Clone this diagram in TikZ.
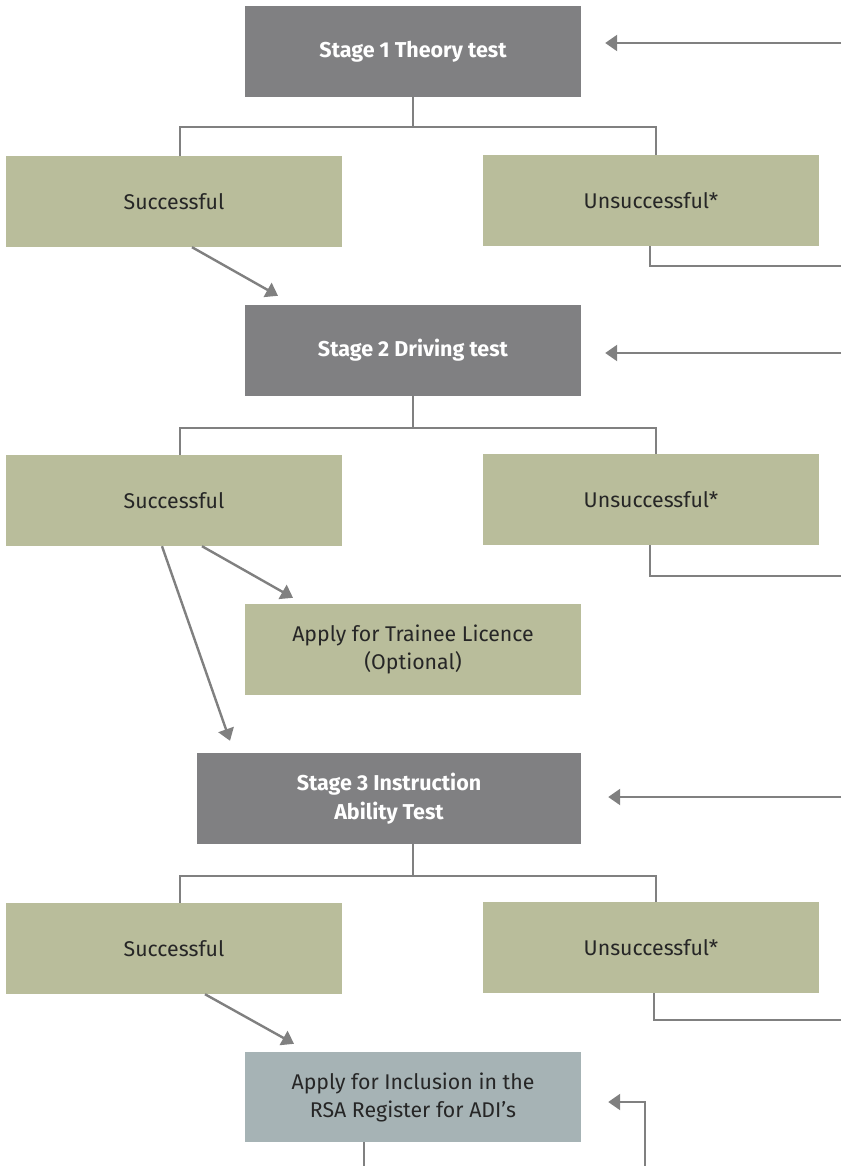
\documentclass[tikz,border=0pt]{standalone}
\usepackage{fontspec}
\setmainfont{Fira Sans}
\usetikzlibrary{arrows.meta}
\definecolor{stagegrey}{HTML}{808082}
\definecolor{resgreen}{HTML}{B9BD9B}
\definecolor{adiblue}{HTML}{A6B3B5}
\definecolor{linkgrey}{HTML}{808080}
\begin{document}
\begin{tikzpicture}[x=1pt, y=-1pt,
  box/.style={rectangle, inner sep=0pt, minimum width=336pt, minimum height=91pt, align=center, font=\fontsize{21.3}{28}\selectfont, text=black!85},
  stage/.style={box, fill=stagegrey, text=white, font=\fontsize{21.5}{29}\selectfont\bfseries},
  res/.style={box, fill=resgreen},
  link/.style={draw=linkgrey, line width=2.4pt},
  arr/.style={link, -{Triangle[length=12pt, width=16pt]}}]
\useasboundingbox (0,0) rectangle (841,1166);
\node[stage] (st1) at (413,51.5){Stage 1 Theory test};
\node[res] (ok1) at (174,201.5){Successful};
\node[res] (no1) at (651,200.5){Unsuccessful*};
\node[stage] (st2) at (413,350.5){Stage 2 Driving test};
\node[res] (ok2) at (174,500.5){Successful};
\node[res] (no2) at (651,499.5){Unsuccessful*};
\node[res] (lic) at (413,649.5){Apply for Trainee Licence\\(Optional)};
\node[stage, minimum width=384pt] (st3) at (389,798.5){Stage 3 Instruction\\Ability Test};
\node[res] (ok3) at (174,948.5){Successful};
\node[res] (no3) at (651,947.5){Unsuccessful*};
\node[box, fill=adiblue, minimum height=90pt] (adi) at (413,1097){Apply for Inclusion in the\\RSA Register for ADI's};
\coordinate (in1) at (841,43);
\coordinate (out1) at (841,266);
\coordinate (in2) at (841,353);
\coordinate (out2) at (841,576);
\coordinate (in3) at (841,797);
\coordinate (out3) at (841,1020);
\coordinate (inadi) at (645,1166);
\coordinate (outadi) at (364,1166);
\draw[link] (st1.south) -- ++(0,30) -| ([xshift=6pt]ok1.north);
\draw[link] (st1.south) ++(0,30) -| ([xshift=5pt]no1.north);
\draw[link] ([xshift=-1pt]no1.south) |- (out1);
\draw[arr] (in1) -- ([xshift=24pt, yshift=8.5pt]st1.east);
\draw[arr] ([xshift=18pt]ok1.south) -- ([xshift=-135pt, yshift=9pt]st2.north);
\draw[link] (st2.south) -- ++(0,32) -| ([xshift=6pt]ok2.north);
\draw[link] (st2.south) ++(0,32) -| ([xshift=5pt]no2.north);
\draw[link] ([xshift=-1pt]no2.south) |- (out2);
\draw[arr] (in2) -- ([xshift=24pt, yshift=-2.5pt]st2.east);
\draw[arr] ([xshift=28pt]ok2.south) -- ([xshift=-120pt, yshift=6pt]lic.north);
\draw[arr] ([xshift=-12pt]ok2.south) -- ([xshift=-159pt, yshift=12pt]st3.north);
\draw[link] ([xshift=24pt]st3.south) -- ++(0,32) -| ([xshift=6pt]ok3.north);
\draw[link] ([xshift=24pt]st3.south) ++(0,32) -| ([xshift=5pt]no3.north);
\draw[link] ([xshift=3pt]no3.south) |- (out3);
\draw[arr] (in3) -- ([xshift=27pt, yshift=1.5pt]st3.east);
\draw[arr] ([xshift=31pt]ok3.south) -- ([xshift=-119pt, yshift=8pt]adi.north);
\draw[arr] (inadi) |- ([xshift=27pt, yshift=-5pt]adi.east);
\draw[link] ([xshift=-49pt]adi.south) -- (outadi);
\end{tikzpicture}
\end{document}
